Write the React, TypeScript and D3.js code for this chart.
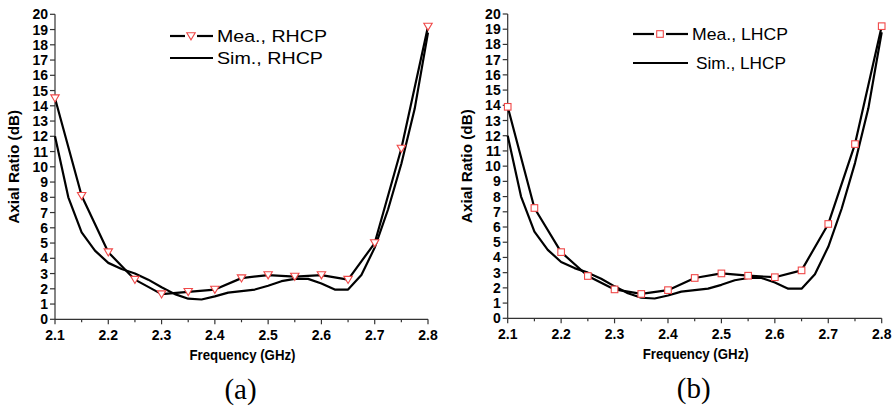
import React from 'react';
import * as d3 from 'd3';

// frequencies (GHz)
const measFreq = [2.1, 2.15, 2.2, 2.25, 2.3, 2.35, 2.4, 2.45, 2.5, 2.55, 2.6, 2.65, 2.7, 2.75, 2.8];
const meaRHCP = [14.5, 8.1, 4.4, 2.6, 1.65, 1.8, 1.95, 2.7, 2.9, 2.8, 2.9, 2.6, 5.0, 11.2, 19.2];
const meaLHCP = [13.9, 7.25, 4.35, 2.78, 1.9, 1.6, 1.85, 2.65, 2.95, 2.8, 2.7, 3.15, 6.2, 11.45, 19.2];

const simFreq = [2.1, 2.125, 2.15, 2.175, 2.2, 2.225, 2.25, 2.275, 2.3, 2.325, 2.35, 2.375, 2.4, 2.425, 2.45, 2.475, 2.5, 2.525, 2.55, 2.575, 2.6, 2.625, 2.65, 2.675, 2.7, 2.725, 2.75, 2.775, 2.8];
const simAR = [12.0, 8.0, 5.7, 4.5, 3.7, 3.3, 3.0, 2.6, 2.1, 1.65, 1.35, 1.3, 1.5, 1.75, 1.85, 1.95, 2.2, 2.5, 2.65, 2.65, 2.35, 1.95, 1.95, 2.9, 4.7, 7.2, 10.2, 13.8, 18.8];

const yTicks = d3.range(0, 21);
const xTicks = [2.1, 2.2, 2.3, 2.4, 2.5, 2.6, 2.7, 2.8];
const xMinor = [2.15, 2.25, 2.35, 2.45, 2.55, 2.65, 2.75];

const RED = '#f04848';
const SANS = "Arial, 'Liberation Sans', sans-serif";

type PanelProps = {
  x0: number; x1: number; yTop: number; yBot: number;
  mea: number[]; kind: 'tri' | 'sq'; pol: string; tag: string;
  leg: { lx0: number; lx1: number; mx: number; y1: number; y2: number; tx: number; tx2: number; w1: number; w2: number };
};

const Marker = ({ cx, cy, kind }: { cx: number; cy: number; kind: 'tri' | 'sq' }) =>
  kind === 'tri' ? (
    <path d={`M${cx - 4.2},${cy - 3.3}L${cx + 4.2},${cy - 3.3}L${cx},${cy + 3.8}Z`} fill="white" stroke={RED} strokeWidth={1.1} />
  ) : (
    <rect x={cx - 3.3} y={cy - 3.3} width={6.6} height={6.6} fill="white" stroke={RED} strokeWidth={1.1} />
  );

const Panel = ({ x0, x1, yTop, yBot, mea, kind, pol, tag, leg }: PanelProps) => {
  const x = d3.scaleLinear().domain([2.1, 2.8]).range([x0, x1]);
  const y = d3.scaleLinear().domain([0, 20]).range([yBot, yTop]);
  const line = d3.line<[number, number]>().x(d => x(d[0])).y(d => y(d[1]));
  const meaPts = measFreq.map((f, i) => [f, mea[i]] as [number, number]);
  const simPts = simFreq.map((f, i) => [f, simAR[i]] as [number, number]);
  const axisCol = '#333';
  const cx = (x0 + x1) / 2;
  return (
    <g>
      {/* axes */}
      <line x1={x0} x2={x0} y1={yTop} y2={yBot} stroke={axisCol} strokeWidth={1.2} />
      <line x1={x0} x2={x1} y1={yBot} y2={yBot} stroke={axisCol} strokeWidth={1.2} />
      {yTicks.map(t => (
        <g key={t}>
          <line x1={x0 - 5} x2={x0} y1={y(t)} y2={y(t)} stroke={axisCol} strokeWidth={1.2} />
          <text x={x0 - 7} y={y(t)} dy="0.36em" textAnchor="end" fontSize={14} fontWeight="bold" fontFamily={SANS}>{t}</text>
        </g>
      ))}
      {xTicks.map(t => (
        <g key={t}>
          <line x1={x(t)} x2={x(t)} y1={yBot} y2={yBot + 5} stroke={axisCol} strokeWidth={1.2} />
          <text x={x(t)} y={yBot + 21} textAnchor="middle" fontSize={14} fontWeight="bold" fontFamily={SANS}>{t.toFixed(1)}</text>
        </g>
      ))}
      {xMinor.map(t => (
        <line key={t} x1={x(t)} x2={x(t)} y1={yBot} y2={yBot + 3} stroke={axisCol} strokeWidth={1.2} />
      ))}
      <text transform={`translate(${x0 - 36},${(yTop + yBot) / 2}) rotate(-90)`} textAnchor="middle" fontSize={14} fontWeight="bold" fontFamily={SANS} textLength={114} lengthAdjust="spacingAndGlyphs">Axial Ratio (dB)</text>
      <text x={cx + 1} y={yBot + 41} textAnchor="middle" fontSize={14} fontWeight="bold" fontFamily={SANS} textLength={106} lengthAdjust="spacingAndGlyphs">Frequency (GHz)</text>
      <text x={cx - 1} y={yBot + 80} textAnchor="middle" fontSize={29} fontFamily="'Liberation Serif', 'Times New Roman', serif">{tag}</text>

      {/* curves */}
      <path d={line(simPts) || ''} fill="none" stroke="#000" strokeWidth={2.2} strokeLinejoin="round" />
      <path d={line(meaPts) || ''} fill="none" stroke="#000" strokeWidth={2.2} strokeLinejoin="round" />
      {meaPts.map((p, i) => <Marker key={i} cx={x(p[0])} cy={y(p[1])} kind={kind} />)}

      {/* legend */}
      <line x1={leg.lx0} x2={leg.mx - 6} y1={leg.y1} y2={leg.y1} stroke="#000" strokeWidth={2.2} />
      <line x1={leg.mx + 6} x2={leg.lx1} y1={leg.y1} y2={leg.y1} stroke="#000" strokeWidth={2.2} />
      <Marker cx={leg.mx} cy={leg.y1} kind={kind} />
      <text x={leg.tx} y={leg.y1} dy="0.36em" fontSize={17} fontFamily={SANS} textLength={leg.w1} lengthAdjust="spacingAndGlyphs">Mea., {pol}</text>
      <line x1={leg.lx0} x2={leg.lx1} y1={leg.y2} y2={leg.y2} stroke="#000" strokeWidth={2.2} />
      <text x={leg.tx2} y={leg.y2} dy="0.36em" fontSize={17} fontFamily={SANS} textLength={leg.w2} lengthAdjust="spacingAndGlyphs">Sim., {pol}</text>
    </g>
  );
};

export default function App() {
  return (
    <svg width={895} height={408} style={{ position: 'absolute', left: 0, top: 0, background: '#fff' }}>
      <Panel x0={55} x1={428} yTop={14.3} yBot={319.3} mea={meaRHCP} kind="tri" pol="RHCP" tag="(a)"
        leg={{ lx0: 170, lx1: 213, mx: 191, y1: 36, y2: 58, tx: 217, tx2: 217, w1: 110, w2: 106 }} />
      <Panel x0={507.7} x1={881.7} yTop={14} yBot={318.3} mea={meaLHCP} kind="sq" pol="LHCP" tag="(b)"
        leg={{ lx0: 633, lx1: 688, mx: 660, y1: 34, y2: 63, tx: 692, tx2: 696, w1: 96, w2: 90 }} />
    </svg>
  );
}
